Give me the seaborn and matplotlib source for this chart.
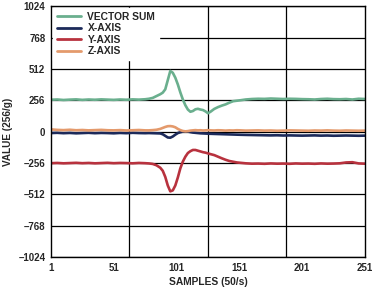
import matplotlib
matplotlib.use("Agg")
import matplotlib.pyplot as plt
import seaborn as sns
import pandas as pd

samples = [1, 6, 11, 16, 21, 26, 31, 36, 41, 46, 51, 56, 61, 66, 71, 76,
           79, 82, 85, 88, 90, 92, 94, 96, 98, 100, 102, 104, 106, 108, 110,
           112, 114, 116, 118, 120, 122, 124, 126, 128, 131, 134, 137, 140,
           143, 146, 149, 152, 156, 161, 166, 171, 176, 181, 186, 191, 196,
           201, 206, 211, 216, 221, 226, 231, 236, 241, 246, 251]

vector_sum = [260, 262, 258, 261, 263, 259, 262, 260, 263, 261, 259, 262, 260, 263, 261, 264,
              268, 275, 290, 305, 318, 345, 420, 495, 480, 440, 385, 320, 262, 215, 180,
              162, 168, 182, 186, 180, 176, 165, 150, 162, 185, 200, 212, 222,
              236, 248, 252, 256, 262, 266, 268, 267, 270, 268, 266, 268, 267,
              265, 264, 262, 266, 268, 265, 264, 266, 262, 268, 266]

x_axis = [-12, -10, -13, -11, -14, -12, -10, -13, -11, -12, -14, -11, -13, -10, -12, -13,
          -12, -13, -14, -15, -22, -35, -48, -50, -40, -25, -12, -5, 0, 2, 0,
          -4, -8, -10, -12, -14, -15, -16, -17, -18, -19, -20, -21, -22,
          -23, -24, -25, -26, -27, -28, -29, -30, -31, -30, -32, -31, -32,
          -33, -32, -31, -33, -32, -34, -33, -32, -33, -34, -33]

y_axis = [-258, -256, -259, -257, -255, -258, -256, -259, -257, -255, -258, -256, -257, -259, -256, -258,
          -260, -264, -275, -295, -320, -370, -440, -488, -480, -440, -375, -300, -245, -205, -175,
          -160, -150, -150, -156, -162, -168, -172, -178, -184, -192, -205, -218, -230,
          -240, -246, -252, -255, -259, -262, -261, -263, -260, -262, -261, -263, -260,
          -262, -261, -263, -260, -262, -261, -259, -252, -250, -260, -262]

z_axis = [18, 14, 12, 15, 11, 13, 10, 12, 14, 11, 10, 12, 9, 11, 13, 10,
          10, 12, 15, 22, 30, 38, 44, 45, 42, 35, 22, 12, 5, 2, 4,
          8, 10, 12, 10, 11, 9, 10, 12, 10, 9, 11, 10, 8,
          10, 9, 11, 10, 8, 9, 10, 8, 9, 7, 8, 10, 9,
          8, 7, 9, 8, 10, 8, 7, 9, 8, 7, 8]

series_names = ["VECTOR SUM", "X-AXIS", "Y-AXIS", "Z-AXIS"]
series_colors = ["#6aaf8e", "#1c2a5a", "#b8323e", "#e49a6c"]
x_ticks = [1, 51, 101, 151, 201, 251]
y_ticks = [-1024, -768, -512, -256, 0, 256, 512, 768, 1024]
x_grid = [63.5, 126, 188.5]

rows = []
for name, vals in zip(series_names, [vector_sum, x_axis, y_axis, z_axis]):
    for s, v in zip(samples, vals):
        rows.append({"sample": s, "value": v, "series": name})
df = pd.DataFrame(rows)

sns.set_style("white")
plt.rcParams["font.family"] = ["Liberation Sans", "DejaVu Sans"]

fig = plt.figure(figsize=(3.76, 2.91), dpi=100)
ax = fig.add_axes([0.1356, 0.1168, 0.835, 0.862])

sns.lineplot(data=df, x="sample", y="value", hue="series",
             hue_order=series_names, palette=series_colors,
             linewidth=1.9, ax=ax, legend=True)

ax.set_xlim(1, 251)
ax.set_ylim(-1024, 1024)
ax.set_xticks(x_ticks)
ax.set_xticklabels([str(t) for t in x_ticks])
ax.set_yticks(y_ticks)
ax.set_yticklabels([str(t).replace("-", "\u2013") for t in y_ticks])
ax.set_xticks(x_grid, minor=True)

ax.grid(False)
ax.yaxis.grid(True, which="major", color="black", linewidth=0.9)
ax.xaxis.grid(True, which="minor", color="black", linewidth=0.9)
ax.set_axisbelow(True)
for sp in ax.spines.values():
    sp.set_color("black")
    sp.set_linewidth(1.0)

ax.tick_params(axis="both", which="major", labelsize=7, length=2, width=0.8,
               color="black", pad=2)
ax.tick_params(axis="x", which="minor", length=0)
for lbl in ax.get_xticklabels() + ax.get_yticklabels():
    lbl.set_fontweight("bold")

ax.set_xlabel("SAMPLES (50/s)", fontsize=7.4, fontweight="bold", labelpad=3)
ax.set_ylabel("VALUE (256/g)", fontsize=7.2, fontweight="bold", labelpad=4)

leg = ax.legend(loc="upper left", frameon=True, fancybox=False, framealpha=1.0,
                edgecolor="white", fontsize=7.4, handlelength=2.4,
                borderaxespad=0.2, labelspacing=0.15, handletextpad=0.6,
                borderpad=0.35)
for t in leg.get_texts():
    t.set_fontweight("bold")
for l in leg.get_lines():
    l.set_linewidth(2.0)

fig.savefig("out.png", dpi=100)
